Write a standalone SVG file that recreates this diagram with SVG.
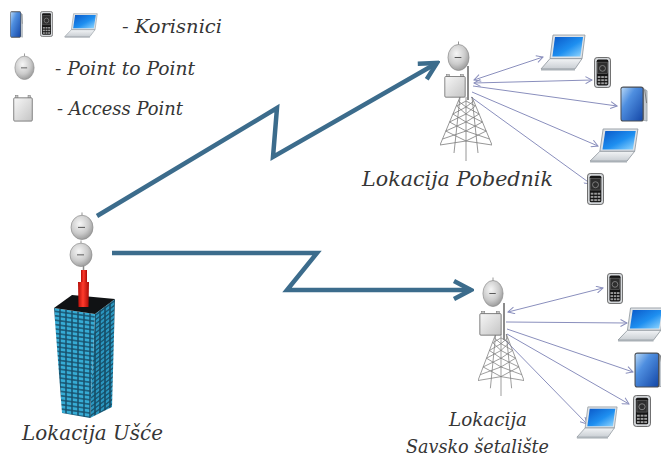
<svg xmlns="http://www.w3.org/2000/svg" width="661" height="457" viewBox="0 0 661 457">
<style>
  .lbl{font-family:"DejaVu Serif","Liberation Serif",serif;font-style:italic;fill:#363636}
  .link{stroke:#3c6c8c;stroke-width:4.5;fill:none;stroke-linejoin:miter}
  .wl{stroke:#8a8fbd;stroke-width:1;fill:none}
  .lat{stroke:#7c7c7c;stroke-width:0.8;fill:none}
</style>
<defs>
  <linearGradient id="scr" x1="0" y1="0" x2="1" y2="1">
    <stop offset="0" stop-color="#0a58c8"/>
    <stop offset="0.55" stop-color="#1e8ff0"/>
    <stop offset="1" stop-color="#95d8ff"/>
  </linearGradient>
  <linearGradient id="kbd" x1="0" y1="0" x2="0" y2="1">
    <stop offset="0" stop-color="#f2f4f6"/>
    <stop offset="1" stop-color="#c9ced3"/>
  </linearGradient>
  <linearGradient id="tab" x1="0" y1="0" x2="1" y2="1">
    <stop offset="0" stop-color="#b5d6f6"/>
    <stop offset="0.35" stop-color="#4f8fe0"/>
    <stop offset="1" stop-color="#1548a8"/>
  </linearGradient>
  <radialGradient id="dishG" cx="0.4" cy="0.35" r="0.75">
    <stop offset="0" stop-color="#f6f6f6"/>
    <stop offset="0.55" stop-color="#cbcbcb"/>
    <stop offset="1" stop-color="#8c8c8c"/>
  </radialGradient>
  <linearGradient id="apG" x1="0" y1="0" x2="1" y2="1">
    <stop offset="0" stop-color="#f7f7f7"/>
    <stop offset="1" stop-color="#c4c4c4"/>
  </linearGradient>
  <linearGradient id="mast" x1="0" y1="0" x2="1" y2="0">
    <stop offset="0" stop-color="#b30d08"/>
    <stop offset="0.45" stop-color="#ff3b2c"/>
    <stop offset="1" stop-color="#a80a06"/>
  </linearGradient>
  <pattern id="brickF" width="6" height="4.4" patternUnits="userSpaceOnUse" patternTransform="skewY(8)">
    <rect width="6" height="4.4" fill="#174f6a"/>
    <rect x="0.7" y="0.7" width="4.6" height="3" fill="#36abd4"/>
  </pattern>
  <pattern id="brickR" width="5" height="4.4" patternUnits="userSpaceOnUse" patternTransform="skewY(-37)">
    <rect width="5" height="4.4" fill="#154a63"/>
    <rect x="0.7" y="0.7" width="3.6" height="3" fill="#2a96bf"/>
  </pattern>
  <marker id="bigHead" viewBox="0 0 22 22" markerUnits="userSpaceOnUse" markerWidth="22" markerHeight="22" refX="19" refY="11" orient="auto">
    <path d="M2,2 L19,11 L2,20" fill="none" stroke="#3c6c8c" stroke-width="4.5"/>
  </marker>
  <marker id="thin" viewBox="0 0 8 8" markerUnits="userSpaceOnUse" markerWidth="8" markerHeight="8" refX="7" refY="4" orient="auto-start-reverse">
    <path d="M0.5,0.5 L7,4 L0.5,7.5" fill="none" stroke="#8a8fbd" stroke-width="1"/>
  </marker>

  <symbol id="laptop" viewBox="0 0 46 36" preserveAspectRatio="none">
    <path d="M13,1 L45,1 L42,24 L10,24 Z" fill="#dfe3e7" stroke="#8d959c" stroke-width="0.8"/>
    <path d="M15,3 L43,3 L40.4,22 L12.4,22 Z" fill="url(#scr)"/>
    <path d="M10,24 L42,24 L35,34 L1,34 Z" fill="url(#kbd)" stroke="#8d959c" stroke-width="0.8"/>
    <path d="M1,34 L35,34 L35,35.5 L1,35.5 Z" fill="#a9b0b6"/>
  </symbol>
  <symbol id="phone" viewBox="0 0 16 30" preserveAspectRatio="none">
    <rect x="0.5" y="0.5" width="15" height="29" rx="2.5" fill="#d6d9dc" stroke="#555" stroke-width="0.8"/>
    <rect x="2.5" y="2.5" width="11" height="25" rx="1.5" fill="#151515"/>
    <rect x="3.5" y="5" width="9" height="11" fill="#2e2e2e" stroke="#777" stroke-width="0.5"/>
    <circle cx="8" cy="11" r="2.8" fill="none" stroke="#8a8a8a" stroke-width="0.8"/>
    <g fill="#9c9c9c">
      <rect x="3.5" y="18.5" width="2.5" height="1.8"/><rect x="6.8" y="18.5" width="2.5" height="1.8"/><rect x="10" y="18.5" width="2.5" height="1.8"/>
      <rect x="3.5" y="21.5" width="2.5" height="1.8"/><rect x="6.8" y="21.5" width="2.5" height="1.8"/><rect x="10" y="21.5" width="2.5" height="1.8"/>
      <rect x="3.5" y="24.5" width="2.5" height="1.8"/><rect x="6.8" y="24.5" width="2.5" height="1.8"/><rect x="10" y="24.5" width="2.5" height="1.8"/>
    </g>
  </symbol>
  <symbol id="tablet" viewBox="0 0 30 38" preserveAspectRatio="none">
    <path d="M24,2 L29,5 L29,37 L24,36 Z" fill="#c3c9cf" stroke="#7d858c" stroke-width="0.6"/>
    <rect x="0.5" y="0.5" width="25" height="37" rx="3" fill="#4a4e55"/>
    <rect x="1.6" y="1.8" width="22.5" height="34.5" rx="1.5" fill="url(#tab)"/>
    <line x1="26.5" y1="4" x2="28.5" y2="18" stroke="#666" stroke-width="0.8"/>
  </symbol>
  <symbol id="dish" viewBox="0 0 24 30" preserveAspectRatio="none">
    <line x1="12" y1="0.5" x2="12" y2="4" stroke="#777" stroke-width="0.8"/>
    <ellipse cx="12" cy="16.5" rx="11" ry="13" fill="url(#dishG)" stroke="#8a8a8a" stroke-width="0.7"/>
    <path d="M8,16.5 L15,16.5" stroke="#555" stroke-width="1"/>
  </symbol>
  <symbol id="ap" viewBox="0 0 22 24" preserveAspectRatio="none">
    <rect x="2.5" y="0.5" width="3" height="3" fill="#c4c4c4" stroke="#777" stroke-width="0.5"/>
    <rect x="16.5" y="0.5" width="3" height="3" fill="#c4c4c4" stroke="#777" stroke-width="0.5"/>
    <rect x="0.8" y="2.5" width="20.4" height="20.7" rx="1" fill="url(#apG)" stroke="#6b6b6b" stroke-width="0.8"/>
  </symbol>
  <symbol id="tower" viewBox="0 0 52 64" preserveAspectRatio="none">
    <path class="lat" d="M20,0 L0,48 M32,0 L52,48 M26,0 L26,64 M20,0 L14,56 M32,0 L38,56"/>
    <path class="lat" d="M18.3,4 L26,10 L12.9,17 L26,25 L5.8,34 L26,44 L0,48 M26,4 L16.7,9 L26,17 L9.6,25 L26,34 L2.5,42"/>
    <path class="lat" d="M33.7,4 L26,10 L39.1,17 L26,25 L46.2,34 L26,44 L52,48 M26,4 L35.3,9 L26,17 L42.4,25 L26,34 L49.5,42"/>
  </symbol>
</defs>

<rect width="661" height="457" fill="#ffffff"/>

<!-- legend -->
<g id="legend">
  <use href="#tablet" x="10" y="11" width="13" height="27"/>
  <use href="#phone" x="40" y="11" width="13" height="26"/>
  <use href="#laptop" x="64" y="13" width="34" height="25"/>
  <text class="lbl" x="122" y="33" font-size="18" textLength="100" lengthAdjust="spacingAndGlyphs">- Korisnici</text>
  <use href="#dish" x="14" y="53" width="21" height="27"/>
  <text class="lbl" x="55" y="75" font-size="18" textLength="140" lengthAdjust="spacingAndGlyphs">- Point to Point</text>
  <use href="#ap" x="13" y="95" width="20" height="27"/>
  <text class="lbl" x="57" y="115" font-size="18" textLength="126" lengthAdjust="spacingAndGlyphs">- Access Point</text>
</g>

<!-- connectors -->
<g id="connectors">
  <path class="link" d="M97,216 L277,108 L273,157 L437,63" marker-end="url(#bigHead)"/>
  <path class="link" d="M112,253 L317,253 L287,290 L471,290" marker-end="url(#bigHead)"/>

  <line class="wl" x1="474" y1="80" x2="543" y2="57" marker-start="url(#thin)" marker-end="url(#thin)"/>
  <line class="wl" x1="474" y1="83" x2="592" y2="80" marker-start="url(#thin)" marker-end="url(#thin)"/>
  <line class="wl" x1="473" y1="86" x2="617" y2="106" marker-end="url(#thin)"/>
  <line class="wl" x1="472" y1="92" x2="598" y2="146" marker-end="url(#thin)"/>
  <line class="wl" x1="471" y1="97" x2="591" y2="184" marker-end="url(#thin)"/>

  <line class="wl" x1="508" y1="312" x2="603" y2="288" marker-start="url(#thin)" marker-end="url(#thin)"/>
  <line class="wl" x1="506" y1="322" x2="627" y2="323" marker-end="url(#thin)"/>
  <line class="wl" x1="507" y1="329" x2="633" y2="372" marker-end="url(#thin)"/>
  <line class="wl" x1="507" y1="334" x2="629" y2="404" marker-end="url(#thin)"/>
  <line class="wl" x1="505" y1="340" x2="587" y2="424" marker-end="url(#thin)"/>
</g>

<!-- Usce building with two point-to-point dishes -->
<g id="usce">
  <path d="M54,308 L95,314 L90,418 L62,413 Z" fill="url(#brickF)"/>
  <path d="M95,314 L115,299 L112,407 L90,418 Z" fill="url(#brickR)"/>
  <path d="M54,308 L72,295 L115,299 L95,314 Z" fill="#101214"/>
  <path d="M78,282 L89,282 L88.5,307 L78.5,307 Z" fill="url(#mast)"/>
  <path d="M81,270 L87,270 L87,282 L81,282 Z" fill="url(#mast)"/>
  <line x1="83.5" y1="265" x2="83.5" y2="270" stroke="#8a8a8a" stroke-width="1.5"/>
  <use href="#dish" x="70" y="212" width="24" height="28"/>
  <use href="#dish" x="69" y="240" width="24" height="27"/>
  <text class="lbl" x="22" y="440" font-size="20" textLength="141" lengthAdjust="spacingAndGlyphs">Lokacija Ušće</text>
</g>

<!-- Pobednik site -->
<g id="pobednik">
  <use href="#tower" x="440" y="97" width="52" height="64"/>
  <line x1="468" y1="66" x2="468" y2="100" stroke="#8c8c8c" stroke-width="2"/>
  <use href="#dish" x="447" y="41" width="23" height="30"/>
  <use href="#ap" x="444" y="74" width="22" height="24"/>
  <text class="lbl" x="362" y="186" font-size="20" textLength="191" lengthAdjust="spacingAndGlyphs">Lokacija Pobednik</text>
</g>
<g id="pob-laptop1"><use href="#laptop" x="540" y="34" width="46" height="37"/></g>
<g id="pob-phone1"><use href="#phone" x="594" y="57" width="17" height="31"/></g>
<g id="pob-tablet"><use href="#tablet" x="620" y="86" width="28" height="36"/></g>
<g id="pob-laptop2"><use href="#laptop" x="589" y="128" width="50" height="35"/></g>
<g id="pob-phone2"><use href="#phone" x="587" y="173" width="17" height="32"/></g>

<!-- Savsko setaliste site -->
<g id="savsko">
  <use href="#tower" x="478" y="334" width="46" height="62"/>
  <line x1="504" y1="303" x2="504" y2="340" stroke="#8c8c8c" stroke-width="2"/>
  <use href="#dish" x="482" y="277" width="22" height="30"/>
  <use href="#ap" x="479" y="311" width="23" height="25"/>
  <text class="lbl" x="449" y="426" font-size="19" textLength="78" lengthAdjust="spacingAndGlyphs">Lokacija</text>
  <text class="lbl" x="406" y="453" font-size="18" textLength="143" lengthAdjust="spacingAndGlyphs">Savsko šetalište</text>
</g>
<g id="sav-phone1"><use href="#phone" x="607" y="273" width="16" height="31"/></g>
<g id="sav-laptop1"><use href="#laptop" x="617" y="307" width="48" height="35"/></g>
<g id="sav-tablet"><use href="#tablet" x="634" y="352" width="30" height="36"/></g>
<g id="sav-phone2"><use href="#phone" x="633" y="395" width="18" height="32"/></g>
<g id="sav-laptop2"><use href="#laptop" x="576" y="406" width="42" height="33"/></g>
</svg>
